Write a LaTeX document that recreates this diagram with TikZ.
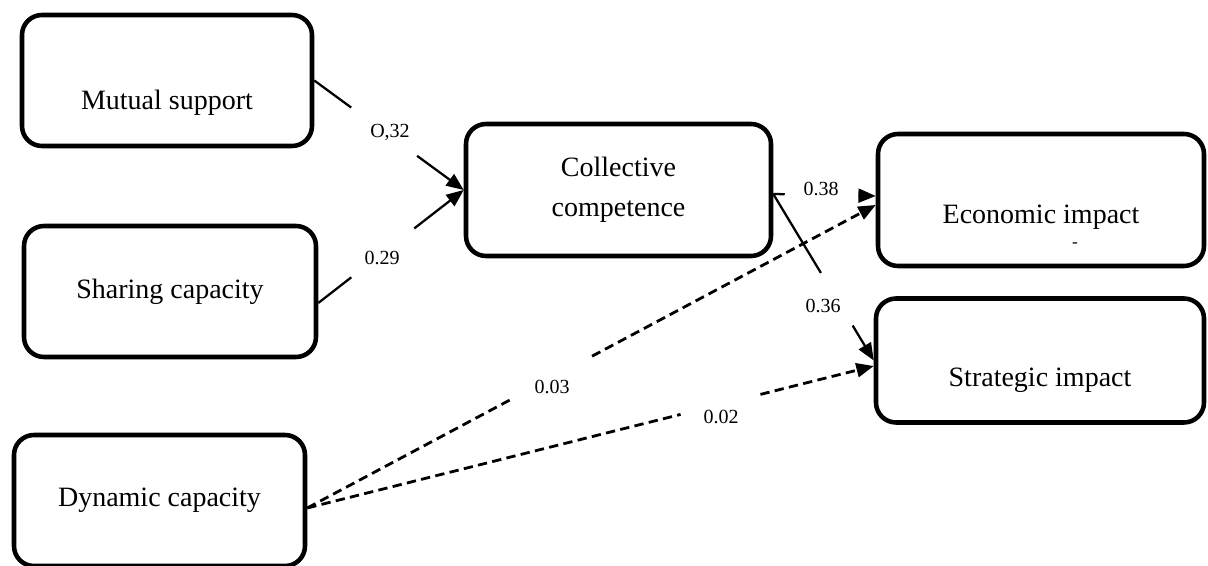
\documentclass[tikz,border=0pt]{standalone}
\usepackage{fontspec}
\setmainfont{Liberation Serif}
\usetikzlibrary{arrows.meta,calc}
\newcommand{\lowertext}[2]{\raisebox{-#1}[0pt][0pt]{#2}}
\begin{document}
\begin{tikzpicture}[x=0.75pt,y=-0.75pt,
  box/.style={draw,line width=3.4pt,rounded corners=15pt,inner sep=0pt,
    font=\fontsize{21}{30}\selectfont},
  lbl/.style={inner sep=0pt,font=\fontsize{15}{18}\selectfont},
  sline/.style={line width=1.7pt},
  dline/.style={line width=2.1pt,dash pattern=on 7pt off 4pt},
  arr/.style={-{Triangle[length=13pt,width=10.5pt]}}
]
\useasboundingbox (0,0) rectangle (1208,566);

% boxes
\node[box,minimum width=217.5pt,minimum height=98.25pt] (ms) at (167,80.5) {\lowertext{21.75pt}{Mutual support}};
\node[box,minimum width=219pt,minimum height=98.25pt] (sc) at (170,291.5) {Sharing capacity};
\node[box,minimum width=218.25pt,minimum height=98.25pt] (dc) at (159.5,500.5) {Dynamic capacity};
\node[box,minimum width=228.75pt,minimum height=99pt,align=center] (cc) at (618.5,190) {Collective\\competence};
\node[box,minimum width=244.5pt,minimum height=99pt] (ec) at (1041,200) {\lowertext{17.5pt}{Economic impact}};
\node[box,minimum width=246pt,minimum height=93pt] (si) at (1040,360.5) {\lowertext{19.5pt}{Strategic impact}};
\node[lbl,font=\fontsize{13}{13}\selectfont] (dash) at (1075,245) {-};

% connector end points
\coordinate (s2) at ($(sc.east)+(0,11.5)$);
\coordinate (c2) at ($(cc.east)+(0,4)$);
\coordinate (e1) at ($(ec.west)+(0,-4)$);
\coordinate (e2) at ($(ec.west)+(0,5)$);
\coordinate (d1) at ($(dc.east)+(0,7.5)$);
\coordinate (i1) at ($(si.west)+(0,0)$);
\coordinate (i2) at ($(si.west)+(0,5.5)$);

% Mutual support -> Collective competence
\draw[sline] (ms.east) -- ($(ms.east)!0.247!(cc.west)$);
\draw[sline,arr] ($(ms.east)!0.688!(cc.west)$) -- (cc.west);
\node[lbl] (l1) at (390,132) {O,32};

% Sharing capacity -> Collective competence
\draw[sline] (s2) -- ($(s2)!0.227!(cc.west)$);
\draw[sline,arr] ($(s2)!0.66!(cc.west)$) -- (cc.west);
\node[lbl] (l2) at (382,258) {0.29};

% Collective competence -> Economic impact
\draw[sline] (c2) -- ($(c2)!0.112!(e1)$);
\draw[sline,arr] ($(c2)!0.832!(e1)$) -- (e1);
\node[lbl] (l3) at (821,189) {0.38};

% Collective competence -> Strategic impact
\draw[sline] (c2) -- ($(c2)!0.474!(i1)$);
\draw[sline,arr] ($(c2)!0.79!(i1)$) -- (i1);
\node[lbl] (l4) at (823,306) {0.36};

% Dynamic capacity -> Economic impact
\draw[dline] (d1) -- ($(d1)!0.364!(e2)$);
\draw[dline,arr] ($(d1)!0.501!(e2)$) -- (e2);
\node[lbl] (l5) at (552,387) {0.03};

% Dynamic capacity -> Strategic impact
\draw[dline] (d1) -- ($(d1)!0.659!(i2)$);
\draw[dline,arr] ($(d1)!0.80!(i2)$) -- (i2);
\node[lbl] (l6) at (721,417) {0.02};
\end{tikzpicture}
\end{document}
